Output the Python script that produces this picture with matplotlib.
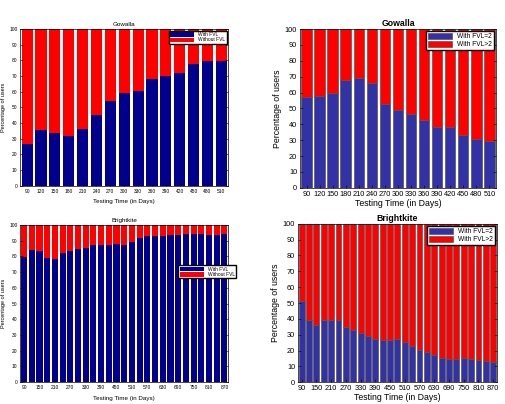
import numpy as np
import matplotlib
matplotlib.use('Agg')
import matplotlib.pyplot as plt

plt.rcParams['font.family'] = ['Liberation Sans', 'DejaVu Sans']

# Gowalla, 90..510 days
gow_days = [90, 120, 150, 180, 210, 240, 270, 300, 330, 360, 390, 420, 450, 480, 510]
gow_fvl = [27, 35.5, 33.5, 31.5, 36, 45, 54, 59.5, 60.5, 68, 70, 72, 78, 79.5, 79.5]
gow_fvl2 = [57, 58, 60, 68, 69, 66, 53, 49, 46.5, 43, 38.5, 38.5, 33.5, 31, 29.5]

# Brightkite, 90..870 days
bk_days = [90, 120, 150, 180, 210, 240, 270, 300, 330, 360, 390, 420, 450, 480,
           510, 540, 570, 600, 630, 660, 690, 720, 750, 780, 810, 840, 870]
bk_fvl = [79.5, 84, 83.5, 79, 78.5, 82.5, 83.5, 84.5, 85.5, 87, 87.5, 87.5, 88, 87.5,
          89, 91.5, 93, 93, 93, 93.5, 93.5, 94, 94, 94, 93.5, 93.5, 94]
bk_fvl2 = [51, 39.5, 36, 39, 39.5, 39.5, 35, 33, 31, 29, 27.5, 26.5, 26.5, 27,
           25.5, 23, 20.5, 19, 17, 15.5, 14.5, 14.5, 15, 14.5, 14, 13.5, 13]

fig = plt.figure(figsize=(5.05, 4.04), dpi=100)


def draw(ax, days, vals, title, labels, blue, small, legend_loc, every=1):
    x = np.arange(1, len(days) + 1)
    vals = np.array(vals)
    if small:
        ec, lw = 'none', 0
        fs, tfs, lfs, gfs = 3.5, 4.5, 4.0, 3.5
    else:
        ec, lw = '#555555', 0.5
        fs, tfs, lfs, gfs = 5.3, 6.3, 6.3, 4.8
    ax.bar(x, vals, width=0.8, color=blue, edgecolor=ec, linewidth=lw, label=labels[0])
    ax.bar(x, 100 - vals, bottom=vals, width=0.8, color='#ff0000', edgecolor=ec, linewidth=lw, label=labels[1])
    ax.set_xlim(0.5, len(days) + 0.5)
    ax.set_ylim(0, 100)
    ax.set_yticks(range(0, 101, 10))
    ax.set_xticks(x[::every])
    ax.set_xticklabels([str(d) for d in days[::every]])
    ax.tick_params(labelsize=fs, direction='in', length=2, width=0.4, top=False, right=True, pad=2)
    for s in ax.spines.values():
        s.set_linewidth(0.5)
    ax.set_title(title, fontsize=tfs, fontweight='normal' if small else 'bold', pad=2)
    ax.set_xlabel('Testing Time (in Days)', fontsize=tfs, labelpad=4 if small else 1)
    ax.set_ylabel('Percentage of users', fontsize=lfs, labelpad=2)
    ax.legend(loc=legend_loc, fontsize=gfs, handlelength=5 if small else 3.5,
              handleheight=1.0, borderpad=0.3, labelspacing=0.1, fancybox=False,
              edgecolor='black', framealpha=1, borderaxespad=0.3)


ax1 = fig.add_axes([0.040, 0.540, 0.412, 0.388])
draw(ax1, gow_days, gow_fvl, 'Gowalla', ['With FVL', 'Without FVL'], '#00008c', True, 'upper right')

ax2 = fig.add_axes([0.594, 0.535, 0.388, 0.393])
draw(ax2, gow_days, gow_fvl2, 'Gowalla', ['With FVL=2', 'With FVL>2'], '#3232a6', False, 'upper right')

ax3 = fig.add_axes([0.040, 0.054, 0.412, 0.389])
draw(ax3, bk_days, bk_fvl, 'Brightkite', ['With FVL', 'Without FVL'], '#00008c', True, (0.76, 0.66), every=2)

ax4 = fig.add_axes([0.590, 0.054, 0.394, 0.392])
draw(ax4, bk_days, bk_fvl2, 'Brightkite', ['With FVL=2', 'With FVL>2'], '#3232a6', False, 'upper right', every=2)

fig.savefig('out.png', dpi=100)
